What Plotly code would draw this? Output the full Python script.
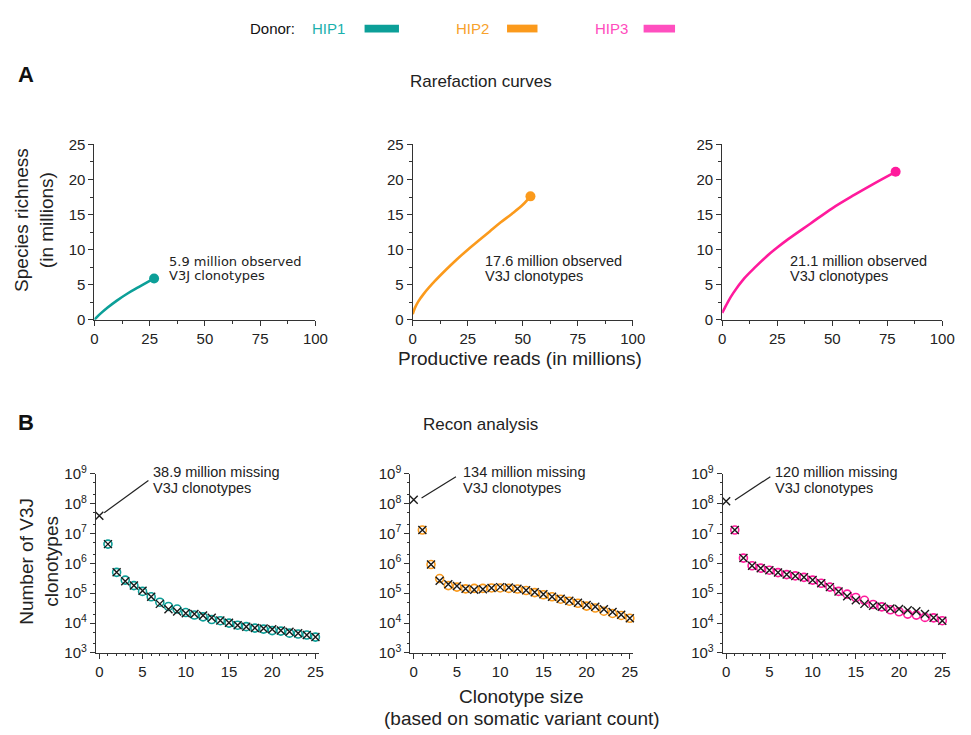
import plotly.graph_objects as go

# ---------------- data ----------------
donors = ["HIP1", "HIP2", "HIP3"]
line_colors = ["#0c9f98", "#fb9a1c", "#ff1a9c"]
legend_text_colors = ["#1ab0ad", "#f8a22c", "#ff4cbd"]

# Panel A: rarefaction curves (millions)
hip1_reads = [0, 1, 3, 6, 10, 15, 20, 27]
hip1_rich = [0, 0.35, 0.95, 1.75, 2.7, 3.75, 4.65, 5.9]
hip2_reads = [0, 1, 2.5, 5, 10, 15, 20, 25, 30, 35, 40, 45, 50, 53.5]
hip2_rich = [0.8, 1.7, 2.6, 3.7, 5.5, 7.1, 8.6, 10.0, 11.3, 12.6, 13.9, 15.1, 16.4, 17.6]
hip3_reads = [0, 1, 2.5, 5, 10, 15, 20, 25, 30, 40, 50, 60, 70, 78.8]
hip3_rich = [1.0, 1.6, 2.5, 3.8, 5.9, 7.5, 9.0, 10.3, 11.5, 13.7, 15.9, 17.8, 19.6, 21.1]
observed_labels = ["5.9 million observed", "17.6 million observed", "21.1 million observed"]

# Panel B: recon analysis
sizes_recon = list(range(0, 26))
sizes_obs = list(range(1, 26))
hip1_recon = [3.89e7, 4.4e6, 5.0e5, 2.5e5, 1.8e5, 1.2e5, 7.6e4, 4.4e4, 2.9e4, 2.45e4, 2.15e4, 2.0e4, 1.8e4,
              1.5e4, 1.23e4, 1.02e4, 8.5e3, 7.6e3, 6.9e3, 6.6e3, 6.2e3, 5.6e3, 5.1e3, 4.6e3, 4.0e3, 3.4e3]
hip1_obs = [4.4e6, 5.0e5, 2.75e5, 1.8e5, 1.15e5, 7.6e4, 5.0e4, 3.6e4, 2.95e4, 2.25e4, 1.86e4, 1.62e4, 1.32e4,
            1.2e4, 1.0e4, 8.5e3, 7.6e3, 6.8e3, 6.3e3, 5.6e3, 5.4e3, 4.6e3, 4.3e3, 4.0e3, 3.4e3]
hip2_recon = [1.34e8, 1.3e7, 9.1e5, 2.6e5, 2.0e5, 1.75e5, 1.4e5, 1.3e5, 1.35e5, 1.5e5, 1.6e5, 1.55e5, 1.4e5,
              1.25e5, 1.07e5, 9.3e4, 7.6e4, 6.5e4, 5.6e4, 4.8e4, 4.0e4, 3.5e4, 2.9e4, 2.35e4, 1.9e4, 1.45e4]
hip2_obs = [1.3e7, 9.1e5, 3.1e5, 1.8e5, 1.6e5, 1.4e5, 1.45e5, 1.45e5, 1.5e5, 1.5e5, 1.45e5, 1.38e5, 1.23e5,
            1.05e5, 8.9e4, 7.6e4, 6.3e4, 5.4e4, 4.6e4, 3.7e4, 3.2e4, 2.5e4, 2.1e4, 1.8e4, 1.45e4]
hip3_recon = [1.2e8, 1.3e7, 1.5e6, 8.3e5, 6.9e5, 5.9e5, 4.9e5, 4.2e5, 3.8e5, 3.4e5, 2.75e5, 2.15e5, 1.6e5,
              1.15e5, 7.9e4, 5.8e4, 4.4e4, 3.8e4, 3.5e4, 3.1e4, 2.95e4, 2.7e4, 2.5e4, 2.0e4, 1.5e4, 1.2e4]
hip3_obs = [1.3e7, 1.5e6, 8.3e5, 6.9e5, 5.9e5, 4.9e5, 4.2e5, 3.8e5, 3.4e5, 2.75e5, 2.15e5, 1.6e5, 1.15e5,
            9.3e4, 7.2e4, 5.8e4, 4.2e4, 3.5e4, 2.8e4, 2.4e4, 2.0e4, 1.85e4, 1.55e4, 1.5e4, 1.2e4]
missing_labels = ["38.9 million missing", "134 million missing", "120 million missing"]

a_ticks = [0, 25, 50, 75, 100]
a_yticks = [0, 5, 10, 15, 20, 25]
b_xticks = [0, 5, 10, 15, 20, 25]
b_yticks = [1e3, 1e4, 1e5, 1e6, 1e7, 1e8, 1e9]
b_yticktext = ["10<sup>%d</sup>" % e for e in range(3, 10)]

# ---------------- layout helpers ----------------
W, H = 971, 735
FONT = "Liberation Sans, Arial, sans-serif"


def fx(px):
    return px / W


def fy(py):
    return 1 - py / H


fig = go.Figure()

a_x_px = [(92, 317), (416, 640), (731, 955)]
a_y_px = (137, 317)
b_x_px = [(93.5, 320.5), (413.5, 640.5), (731.5, 958.5)]
b_y_px = (475, 659)

reads = [hip1_reads, hip2_reads, hip3_reads]
rich = [hip1_rich, hip2_rich, hip3_rich]
recon = [hip1_recon, hip2_recon, hip3_recon]
obs = [hip1_obs, hip2_obs, hip3_obs]

axis_common = dict(showline=True, linecolor="#333", linewidth=1, ticks="outside", ticklen=5,
                   tickwidth=1, tickcolor="#333", showgrid=False, zeroline=False,
                   tickfont=dict(family=FONT, size=15, color="#222"))

layout_axes = {}
for i in range(3):
    # panel A
    n = i + 1
    xa = "xaxis" if n == 1 else "xaxis%d" % n
    ya = "yaxis" if n == 1 else "yaxis%d" % n
    layout_axes[xa] = dict(axis_common, domain=[fx(a_x_px[i][0]), fx(a_x_px[i][1])],
                           anchor="y" if n == 1 else "y%d" % n, range=[0, 100],
                           tickvals=a_ticks, minor=dict(ticks="outside", ticklen=3, dtick=12.5, tickcolor="#333"))
    layout_axes[ya] = dict(axis_common, domain=[fy(a_y_px[1]), fy(a_y_px[0])],
                           anchor="x" if n == 1 else "x%d" % n, range=[0, 25],
                           tickvals=a_yticks, minor=dict(ticks="outside", ticklen=3, dtick=2.5, tickcolor="#333"))
    xr = "x" if n == 1 else "x%d" % n
    yr = "y" if n == 1 else "y%d" % n
    fig.add_trace(go.Scatter(x=reads[i], y=rich[i], mode="lines", line=dict(color=line_colors[i], width=2.6, shape="spline"),
                             xaxis=xr, yaxis=yr, showlegend=False, cliponaxis=False))
    fig.add_trace(go.Scatter(x=[reads[i][-1]], y=[rich[i][-1]], mode="markers",
                             marker=dict(color=line_colors[i], size=10), xaxis=xr, yaxis=yr,
                             showlegend=False, cliponaxis=False))
    # panel B
    m = i + 4
    xb, yb = "xaxis%d" % m, "yaxis%d" % m
    layout_axes[xb] = dict(axis_common, domain=[fx(b_x_px[i][0]), fx(b_x_px[i][1])],
                           anchor="y%d" % m, range=[-0.4, 25.4], tickvals=b_xticks,
                           minor=dict(ticks="outside", ticklen=2, dtick=1, tickcolor="#333"))
    layout_axes[yb] = dict(axis_common, domain=[fy(b_y_px[1]), fy(b_y_px[0])],
                           anchor="x%d" % m, type="log", range=[3, 9], tickvals=b_yticks, ticktext=b_yticktext,
                           minor=dict(ticks="outside", ticklen=2, tickcolor="#333"))
    fig.add_trace(go.Scatter(x=sizes_obs, y=obs[i], mode="markers",
                             marker=dict(symbol="circle-open", size=8, color=line_colors[i], line=dict(width=1.6)),
                             xaxis="x%d" % m, yaxis="y%d" % m, showlegend=False, cliponaxis=False))
    fig.add_trace(go.Scatter(x=sizes_recon, y=recon[i], mode="markers",
                             marker=dict(symbol="x-thin-open", size=8, color="#1a1a1a", line=dict(width=1.4, color="#1a1a1a")),
                             xaxis="x%d" % m, yaxis="y%d" % m, showlegend=False, cliponaxis=False))

annotations = []


def txt(text, px, py, size=14, color="#222", xanchor="left", family=FONT, angle=0, bold=False):
    if bold:
        text = "<b>%s</b>" % text
    annotations.append(dict(text=text, x=fx(px), y=fy(py), xref="paper", yref="paper", showarrow=False,
                            xanchor=xanchor, yanchor="middle", textangle=angle,
                            font=dict(family=family, size=size, color=color)))


# legend
txt("Donor:", 248, 18, size=15, color="#111")
leg_text_x = [311, 458, 600]
leg_bar_x = [(367, 402), (512, 543), (651, 683)]
shapes = []
for i in range(3):
    txt(donors[i], leg_text_x[i], 18, size=15, color=legend_text_colors[i])
    shapes.append(dict(type="rect", xref="paper", yref="paper", x0=fx(leg_bar_x[i][0]), x1=fx(leg_bar_x[i][1]),
                       y0=fy(22), y1=fy(14), fillcolor=line_colors[i] if i != 2 else "#ff4fbf",
                       line=dict(width=0)))

# panel labels & titles
txt("A", 12, 65, size=22, color="#111", bold=True)
txt("B", 12, 422, size=22, color="#111", bold=True)
txt("Rarefaction curves", 485, 72, size=17, color="#222", xanchor="center")
txt("Recon analysis", 485, 424, size=17, color="#222", xanchor="center")

# axis titles
txt("Species richness<br>(in millions)", 31, 214, size=19, color="#222", xanchor="center", angle=-90)
txt("Productive reads (in millions)", 525, 357, size=19, color="#222", xanchor="center")
txt("Number of V3J<br>clonotypes", 36, 565, size=19, color="#222", xanchor="center", angle=-90)
txt("Clonotype size", 527, 704, size=19, color="#222", xanchor="center")
txt("(based on somatic variant count)", 527, 726, size=19, color="#222", xanchor="center")

# panel A annotations
a_note_x = [166, 488, 798]
for i in range(3):
    fam = "DejaVu Sans, Verdana, sans-serif" if i == 0 else FONT
    sz = 13 if i == 0 else 14.5
    txt(observed_labels[i], a_note_x[i], 257, size=sz, color="#222", family=fam)
    txt("V3J clonotypes", a_note_x[i], 272, size=sz, color="#222", family=fam)

# panel B annotations
b_note_x = [150, 465, 783]
b_lines = [((102, 515), (147, 482)), ((425, 500), (460, 478)), ((744, 502), (780, 478))]
for i in range(3):
    txt(missing_labels[i], b_note_x[i], 473, size=14.5, color="#222")
    txt("V3J clonotypes", b_note_x[i], 490, size=14.5, color="#222")
    (x0, y0), (x1, y1) = b_lines[i]
    shapes.append(dict(type="line", xref="paper", yref="paper", x0=fx(x0), y0=fy(y0), x1=fx(x1), y1=fy(y1),
                       line=dict(color="#222", width=1.2)))

fig.update_layout(width=W, height=H, margin=dict(l=0, r=0, t=0, b=0), paper_bgcolor="white",
                  plot_bgcolor="white", annotations=annotations, shapes=shapes, showlegend=False,
                  font=dict(family=FONT), **layout_axes)

fig.write_html("out.html",
               post_script="document.documentElement.style.margin='0';document.body.style.margin='0';"
                           "document.body.style.overflow='hidden';",
               config={"displayModeBar": False})
